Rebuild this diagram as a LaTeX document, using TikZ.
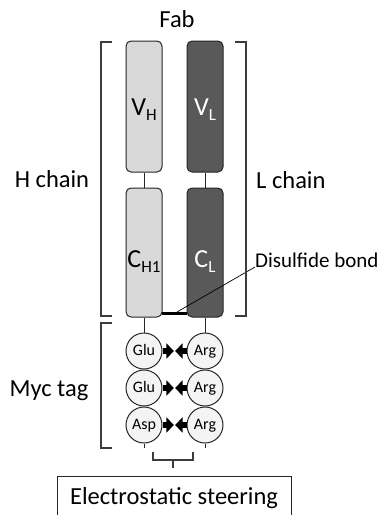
\documentclass[tikz,border=0pt]{standalone}
\usepackage{fontspec}
\setmainfont{Carlito}
\usetikzlibrary{arrows.meta,calc}
\definecolor{lightfill}{HTML}{D9D9D9}
\definecolor{darkfill}{HTML}{595959}
\definecolor{edgecol}{HTML}{262626}
\definecolor{circfill}{HTML}{F4F4F4}
\newcommand\lblfont{\fontsize{24.5}{28}\selectfont}
\newcommand\domfont{\fontsize{26}{30}\selectfont}
\newcommand\subfnt{\fontsize{17}{20}\selectfont}
\begin{document}
\begin{tikzpicture}[x=1pt,y=-1pt,
  igbox/.style={draw=edgecol, line width=1pt, rounded corners=5pt,
    minimum width=36pt, inner sep=0pt},
  lightdom/.style={igbox, fill=lightfill},
  darkdom/.style={igbox, fill=darkfill},
  residue/.style={circle, draw=edgecol, line width=1pt, fill=circfill,
    minimum size=36pt, inner sep=0pt, font=\fontsize{16}{18}\selectfont,
    text height=11pt, text depth=3pt},
  link/.style={draw=edgecol, line width=1pt},
  brack/.style={draw=edgecol!90, line width=1.2pt},
  push/.style={line width=5.5pt, -{Triangle[length=7.5pt,width=15pt]}, shorten >=0.6pt},
  lbl/.style={font=\lblfont, inner sep=0pt}]
\useasboundingbox (0,0) rectangle (387,515);

% domains
\node[lightdom, minimum height=131pt] (vh) at (144,106.5) {};
\node[darkdom, minimum height=131pt] (vl) at (205,106.5) {};
\node[lightdom, minimum height=129pt] (ch) at (144,252.5) {};
\node[darkdom, minimum height=129pt] (cl) at (205,252.5) {};

% domain labels
\node[anchor=base, inner sep=0pt] (vhl) at (144,115) {\domfont V\raisebox{-5pt}{\subfnt H}};
\node[anchor=base, inner sep=0pt, text=white] (vll) at (205,115) {\domfont V\raisebox{-5pt}{\subfnt L}};
\node[anchor=base, inner sep=0pt] (chl) at (144,267) {\domfont C\raisebox{-5pt}{\subfnt H1}};
\node[anchor=base, inner sep=0pt, text=white] (cll) at (205,267) {\domfont C\raisebox{-5pt}{\subfnt L}};

\draw[link] (vh) -- (ch);
\draw[link] (vl) -- (cl);

% residues
\node[residue] (g1) at (144,351) {Glu};
\node[residue] (g2) at (144,388) {Glu};
\node[residue] (g3) at (144,425) {Asp};
\node[residue] (r1) at (205,351) {Arg};
\node[residue] (r2) at (205,388) {Arg};
\node[residue] (r3) at (205,425) {Arg};

\draw[link] (ch) -- (g1);
\draw[link] (g1) -- (g2);
\draw[link] (g2) -- (g3);
\draw[link] (cl) -- (r1);
\draw[link] (r1) -- (r2);
\draw[link] (r2) -- (r3);
\coordinate (gend) at (144,448);
\coordinate (rend) at (205,448);
\draw[link] (g3) -- (gend);
\draw[link] (r3) -- (rend);

% electrostatic arrows
\coordinate (m1) at ($(g1)!0.5!(r1)$);
\coordinate (m2) at ($(g2)!0.5!(r2)$);
\coordinate (m3) at ($(g3)!0.5!(r3)$);
\draw[push] (g1) -- (m1);
\draw[push] (r1) -- (m1);
\draw[push] (g2) -- (m2);
\draw[push] (r2) -- (m2);
\draw[push] (g3) -- (m3);
\draw[push] (r3) -- (m3);

% disulfide bond
\coordinate (ssl) at (162,313);
\coordinate (ssr) at (187,313);
\draw[line width=3pt, black] (ssl) -- (ssr);
\coordinate (ssm) at (177,312);
\node[anchor=base west, inner sep=0pt, font=\fontsize{21}{24}\selectfont] (ssb) at (255,267) {Disulfide bond};
\draw[line width=0.7pt, black] (ssm) -- (ssb.base west);

% brackets
\draw[brack] (112,42) -- (101,42) -- (101,316) -- (112,316);
\draw[brack] (235,42) -- (246,42) -- (246,316) -- (235,316);
\draw[brack] (112,323) -- (101,323) -- (101,448) -- (112,448);
\draw[brack] (153,452) -- (153,460) -- (193,460) -- (193,452);
\draw[brack] (173,460) -- (173,468);

% labels
\node[lbl, anchor=base] (fab) at (177,27) {Fab};
\node[lbl, anchor=base] (hch) at (52,187) {H chain};
\node[lbl, anchor=base west] (lch) at (256,188) {L chain};
\node[lbl, anchor=base] (myc) at (49,396) {Myc tag};

% electrostatic steering box
\node[draw=edgecol, line width=1pt, minimum width=234pt, minimum height=44pt,
  anchor=north, text height=17pt, text depth=5pt, inner sep=0pt, font=\lblfont]
  (es) at (174,476) {Electrostatic steering};
\end{tikzpicture}
\end{document}
